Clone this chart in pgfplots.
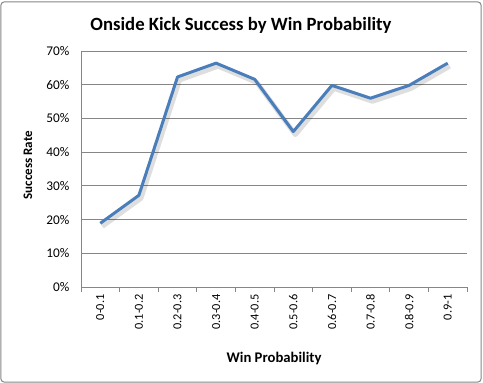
\documentclass[border=0pt]{standalone}
\usepackage{fontspec}
\setmainfont{Carlito}
\usepackage{pgfplots}
\pgfplotsset{compat=1.18}
\definecolor{xlgray}{HTML}{868686}
\definecolor{xlblue}{HTML}{4A7EBB}
\begin{document}
\begin{tikzpicture}
\useasboundingbox (-81bp,-96bp) rectangle (402bp,287bp);
\draw[xlgray, line width=1bp, rounded corners=3bp] (-80bp,-95bp) rectangle (400bp,285bp);
\begin{axis}[
  at={(0,0)}, anchor=south west,
  scale only axis, width=386bp, height=236bp,
  xmin=-0.5, xmax=9.5, ymin=0, ymax=70,
  axis x line*=bottom, axis y line*=left,
  axis line style={xlgray, line width=1bp},
  xtick={0,...,9},
  xticklabels={0-0.1,0.1-0.2,0.2-0.3,0.3-0.4,0.4-0.5,0.5-0.6,0.6-0.7,0.7-0.8,0.8-0.9,0.9-1},
  minor xtick={-0.5,0.5,...,9.5},
  major tick length=0pt,
  minor tick length=5bp,
  tick align=outside,
  minor tick style={xlgray, line width=1bp},
  xticklabel style={rotate=90, anchor=east, font=\fontsize{12.3bp}{14bp}\selectfont, xshift=-4bp},
  ytick={0,10,...,70},
  yticklabels={0\%,10\%,20\%,30\%,40\%,50\%,60\%,70\%},
  yticklabel style={font=\fontsize{13.3bp}{15bp}\selectfont, xshift=-8bp},
  ymajorgrids, major grid style={xlgray, line width=1bp},
  /pgf/number format/assume math mode=true,
  clip=false,
]
\addplot[black, opacity=0.13, line width=5bp, line join=round, xshift=2bp, yshift=-3bp] coordinates {
(0,18.9) (1,27.2) (2,62.3) (3,66.4) (4,61.6) (5,46.1) (6,59.8) (7,56.0) (8,59.8) (9,66.4)};
\addplot[xlblue, line width=3bp, line join=round] coordinates {
(0,18.9) (1,27.2) (2,62.3) (3,66.4) (4,61.6) (5,46.1) (6,59.8) (7,56.0) (8,59.8) (9,66.4)};
\end{axis}
\node[font=\bfseries\fontsize{18.7bp}{22bp}\selectfont] at (160bp,262bp) {Onside Kick Success by Win Probability};
\node[font=\bfseries\fontsize{13bp}{15bp}\selectfont, rotate=90] at (-53bp,122bp) {Success Rate};
\node[font=\bfseries\fontsize{14.7bp}{17bp}\selectfont] at (193bp,-71bp) {Win Probability};
\end{tikzpicture}
\end{document}
